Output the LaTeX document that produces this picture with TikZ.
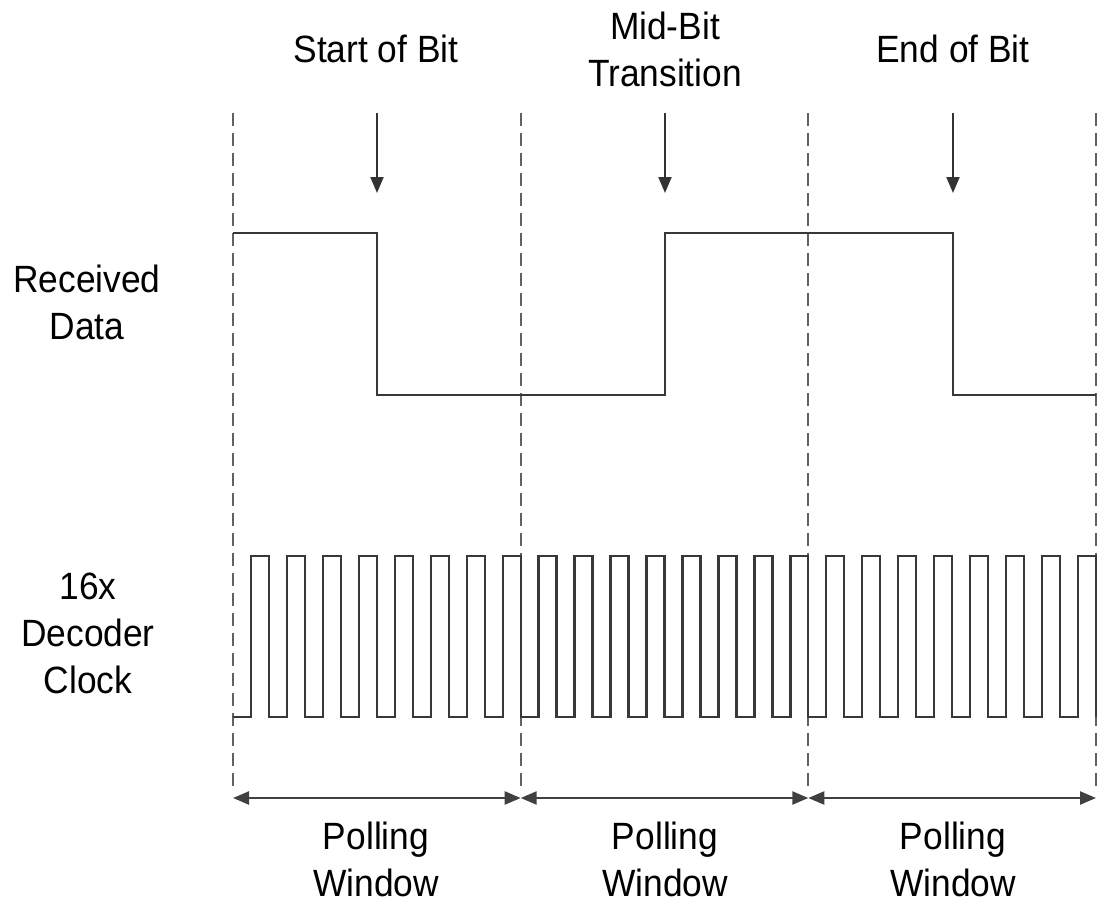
\documentclass[tikz,border=0pt]{standalone}
\usepackage{fontspec}
\setmainfont{Liberation Sans}[FakeStretch=0.93]
\usetikzlibrary{arrows.meta}
\begin{document}
\begin{tikzpicture}[x=1pt,y=-1pt,
  sig/.style={line width=2.3pt, draw=black!78, line join=miter},
  bound/.style={line width=2.3pt, draw=black!62, dash pattern=on 13pt off 7pt},
  eventarrow/.style={line width=2.1pt, draw=black!80, -{Triangle[length=16pt,width=13pt]}},
  span/.style={line width=2.3pt, draw=black!75, {Triangle[length=16pt,width=13pt]}-{Triangle[length=16pt,width=13pt]}},
  lbl/.style={font=\fontsize{38}{47}\selectfont, inner sep=0pt, align=center, anchor=north}]
\useasboundingbox (0,0) rectangle (1104,907);

% window boundaries
\foreach \i/\x in {0/233,1/520.7,2/808.3,3/1096} {
  \coordinate (t\i) at (\x,113);
  \coordinate (b\i) at (\x,792);
  \coordinate (m\i) at (\x,798);
  \draw[bound] (t\i) -- (b\i);
}

% polling window spans
\draw[span] (m0) -- (m1);
\draw[span] (m1) -- (m2);
\draw[span] (m2) -- (m3);

% event markers
\foreach \n/\x in {s/377,m/665,e/953} {
  \coordinate (\n top) at (\x,113);
  \coordinate (\n tip) at (\x,193);
  \draw[eventarrow] (\n top) -- (\n tip);
}

% received data waveform
\draw[sig] (233,233) -- (377,233) -- (377,395) -- (665,395) -- (665,233)
  -- (953,233) -- (953,395) -- (1096,395);

% 16x decoder clock: 8 cycles per window
\draw[sig] (233,717)
  \foreach \k in {0,...,23} {
    -- ({233+35.958*\k+17.98},717) -- ++(0,-161)
    -- ({233+35.958*(\k+1)},556) -- ++(0,161)
  };

% labels
\node[lbl] (start) at (376,35) {Start of Bit};
\node[lbl] (mid) at (665,12) {Mid-Bit\\Transition};
\node[lbl] (end) at (953,35) {End of Bit};
\node[lbl] (rx) at (87,265) {Received\\Data};
\node[lbl] (clk) at (88,573) {16x\\Decoder\\Clock};
\node[lbl] (pw1) at (376,822) {Polling\\Window};
\node[lbl] (pw2) at (665,822) {Polling\\Window};
\node[lbl] (pw3) at (953,822) {Polling\\Window};
\end{tikzpicture}
\end{document}
